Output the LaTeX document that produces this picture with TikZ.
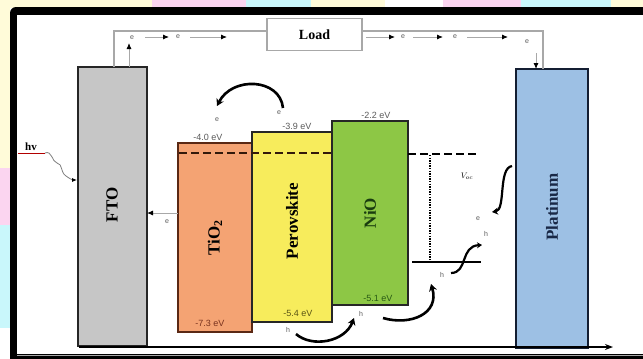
\documentclass[tikz,border=0pt]{standalone}
\usepackage{fontspec}
\setmainfont{Liberation Serif}
\setsansfont{Liberation Sans}
\usetikzlibrary{arrows.meta,decorations.pathmorphing}
\definecolor{ftoc}{HTML}{C6C6C6}
\definecolor{tioc}{HTML}{F4A373}
\definecolor{perc}{HTML}{F7EC5C}
\definecolor{nioc}{HTML}{8DC745}
\definecolor{ptc}{HTML}{9DC0E4}
\definecolor{edgec}{HTML}{262626}
\definecolor{wirec}{HTML}{A8A8A8}
\definecolor{stripy}{HTML}{FFFBD9}
\definecolor{stripp}{HTML}{FBD5F0}
\definecolor{stripc}{HTML}{C9F7FB}
\definecolor{labc}{HTML}{5A5A5A}
\begin{document}
\begin{tikzpicture}[x=1pt,y=-1pt,
  band/.style={draw=edgec, line width=1.6pt, inner sep=0pt, outer sep=0pt},
  bandtext/.style={rotate=90, font=\bfseries\fontsize{17}{17}\selectfont},
  evlab/.style={font=\sffamily\fontsize{9}{9}\selectfont, text=labc, inner sep=0pt},
  small/.style={font=\sffamily\fontsize{7}{7}\selectfont, text=labc, inner sep=0pt},
  wire/.style={draw=wirec, line width=1.1pt},
  flow/.style={draw=wirec, line width=0.9pt, -{Latex[length=6pt,width=5pt,color=black]}},
  thick arrow/.style={draw=black, line width=2.6pt, -{Stealth[length=7pt,width=8pt]}},
  curve/.style={draw=black, line width=2.2pt}
]
\useasboundingbox (0,0) rectangle (643,359);
% background decoration
\fill[white] (0,0) rectangle (643,359);
\fill[stripy] (0,0) rectangle (152,8);
\fill[stripp] (152,0) rectangle (246,8);
\fill[stripc] (246,0) rectangle (311,8);
\fill[stripy] (311,0) rectangle (385,8);
\fill[stripp] (443,0) rectangle (521,8);
\fill[stripc] (521,0) rectangle (611,8);
\fill[stripy] (611,0) rectangle (643,8);
\fill[stripy] (0,0) rectangle (10,168);
\fill[stripp] (0,168) rectangle (10,225);
\fill[stripc] (0,225) rectangle (10,328);
\fill[black, rounded corners=6pt] (10,7) rectangle (660,370);
\fill[white] (17,15) rectangle (643,354);
\draw[wirec, line width=1pt] (17,355.5) -- (643,355.5);

% bands
\node[band, fill=ftoc, minimum width=69pt, minimum height=279pt] (fto) at (112.5,206.5) {};
\node[band, fill=tioc, draw={rgb,255:red,90;green,40;blue,20}, minimum width=74pt, minimum height=189pt] (tio) at (215,237.5) {};
\node[band, fill=perc, minimum width=80pt, minimum height=190pt] (per) at (292,227) {};
\node[band, fill=nioc, minimum width=76pt, minimum height=184pt] (nio) at (370,213) {};
\node[band, fill=ptc, draw={rgb,255:red,20;green,30;blue,50}, minimum width=72pt, minimum height=279pt] (pt) at (552,208.5) {};
\node[draw=wirec, line width=1.1pt, fill=white, minimum width=95pt, minimum height=32pt, inner sep=0pt,
  font=\bfseries\fontsize{14}{14}\selectfont] (load) at (314.5,34.5) {Load};

\node[bandtext] (ftot) at (112,205) {FTO};
\node[bandtext] (tiot) at (215,238) {TiO\textsubscript{2}};
\node[bandtext] (pert) at (292,221) {Perovskite};
\node[bandtext, text={rgb,255:red,25;green,60;blue,15}] (niot) at (370,213) {NiO};
\node[bandtext, text={rgb,255:red,25;green,40;blue,70}] (ptt) at (552,207) {Platinum};

% energy labels
\node[evlab] (l1) at (208,137) {-4.0 eV};
\node[evlab] (l2) at (297,126) {-3.9 eV};
\node[evlab] (l3) at (376,115) {-2.2 eV};
\node[evlab, text={rgb,255:red,120;green,50;blue,30}] (l4) at (210,323) {-7.3 eV};
\node[evlab, text={rgb,255:red,90;green,85;blue,20}] (l5) at (298,313) {-5.4 eV};
\node[evlab, text={rgb,255:red,40;green,90;blue,20}] (l6) at (378,298) {-5.1 eV};

% external wire
\coordinate (wl) at (114,31);
\coordinate (wr) at (543,31);
\draw[wire] (fto.north -| wl) -- (wl) -- (load.west |- wl);
\draw[wire] (load.east |- wr) -- (wr) -- (pt.north -| wr);
% electron flow along wire
\coordinate (ua) at (129,43);
\draw[flow] (fto.north -| ua) -- (ua);
\node[small] (e1) at (132,38) {e};
\coordinate (a1s) at (145,37); \coordinate (a1e) at (169,37);
\coordinate (a2s) at (190,37); \coordinate (a2e) at (227,37);
\draw[flow] (a1s) -- (a1e);
\node[small] (e2) at (178,37) {e};
\draw[flow] (a2s) -- (a2e);
\coordinate (b1s) at (366,37); \coordinate (b1e) at (395,37);
\coordinate (b2s) at (413,37); \coordinate (b2e) at (443,37);
\coordinate (b3s) at (467,37); \coordinate (b3e) at (508,37);
\draw[flow] (b1s) -- (b1e);
\node[small] (e3) at (403,37) {e};
\draw[flow] (b2s) -- (b2e);
\node[small] (e4) at (455,37) {e};
\draw[flow] (b3s) -- (b3e);
\node[small] (e5) at (527,42) {e};
\coordinate (da) at (536,53);
\draw[flow] (da) -- (pt.north -| da);

% hv
\node[font=\bfseries\fontsize{11}{11}\selectfont, inner sep=0pt] (hv) at (31,147) {hv};
\coordinate (hvl) at (18,153); \coordinate (hvr) at (45,153);
\draw[red!70!black, line width=0.8pt] (hvl) -- (hvr);
\coordinate (hvend) at (77,180);
\draw[gray, line width=0.8pt, -{Latex[length=5pt,width=4pt,color=black]}]
  (hvr) .. controls (52,150) and (52,162) .. (57,163)
        .. controls (63,164) and (60,172) .. (66,176)
        .. controls (70,179) and (73,180) .. (hvend);

% TiO2 -> FTO electron injection
\coordinate (inj) at (178,213);
\draw[flow] (inj) -- (fto.east |- inj);
\node[small] (e6) at (167,222) {e};

% Fermi / dashed lines
\coordinate (d1) at (179,153); \coordinate (d2) at (332,153);
\draw[draw={rgb,255:red,50;green,25;blue,10}, line width=1.7pt, dash pattern=on 8pt off 4pt] (d1) -- (d2);
\coordinate (d3) at (408,154); \coordinate (d4) at (476,154);
\draw[black, line width=1.7pt, dash pattern=on 8pt off 4pt] (d3) -- (d4);
\coordinate (v1) at (430,155); \coordinate (v2) at (430,262);
\draw[black, line width=1.8pt, dash pattern=on 1.3pt off 1.3pt] (v1) -- (v2);
\coordinate (r1) at (412,262); \coordinate (r2) at (481,262);
\draw[black, line width=1.5pt] (r1) -- (r2);
\node[font=\fontsize{8}{8}\selectfont, inner sep=0pt] (voc) at (467,176) {$V_{oc}$};

% top electron transfer arc
\coordinate (ts) at (283,108); \coordinate (te) at (217,106);
\draw[thick arrow] (ts) .. controls (280,78) and (232,76) .. (te);
\node[small] (e7) at (217,120) {e};
\node[small] (e8) at (279,113) {e};

% hole transfer arrows
\coordinate (h1s) at (296,334); \coordinate (h1e) at (354,318);
\draw[thick arrow] (h1s) .. controls (312,348) and (345,342) .. (h1e);
\node[small] (h1) at (288,330) {h};
\node[small] (h2) at (361,314) {h};
\coordinate (h2s) at (383,318); \coordinate (h2e) at (431,284);
\draw[thick arrow] (h2s) .. controls (410,326) and (440,314) .. (h2e);
\node[small] (h3) at (442,275) {h};
% redox S-curves
\coordinate (s1s) at (451,273); \coordinate (s1e) at (482,245);
\draw[curve, -{Stealth[length=5pt,width=6pt]}] (s1s) .. controls (468,273) and (460,246) .. (s1e);
\coordinate (s2s) at (512,166); \coordinate (s2e) at (492,212);
\draw[curve, -{Stealth[length=6pt,width=7pt]}] (s2s) .. controls (498,168) and (506,210) .. (s2e);
\node[small] (e9) at (478,219) {e};
\node[small] (h4) at (486,234) {h};

% energy axis
\coordinate (ax0) at (79,347); \coordinate (ax1) at (613,347);
\draw[black, line width=1.8pt, -{Stealth[length=8pt,width=6pt]}] (ax0) -- (ax1);
\end{tikzpicture}
\end{document}
